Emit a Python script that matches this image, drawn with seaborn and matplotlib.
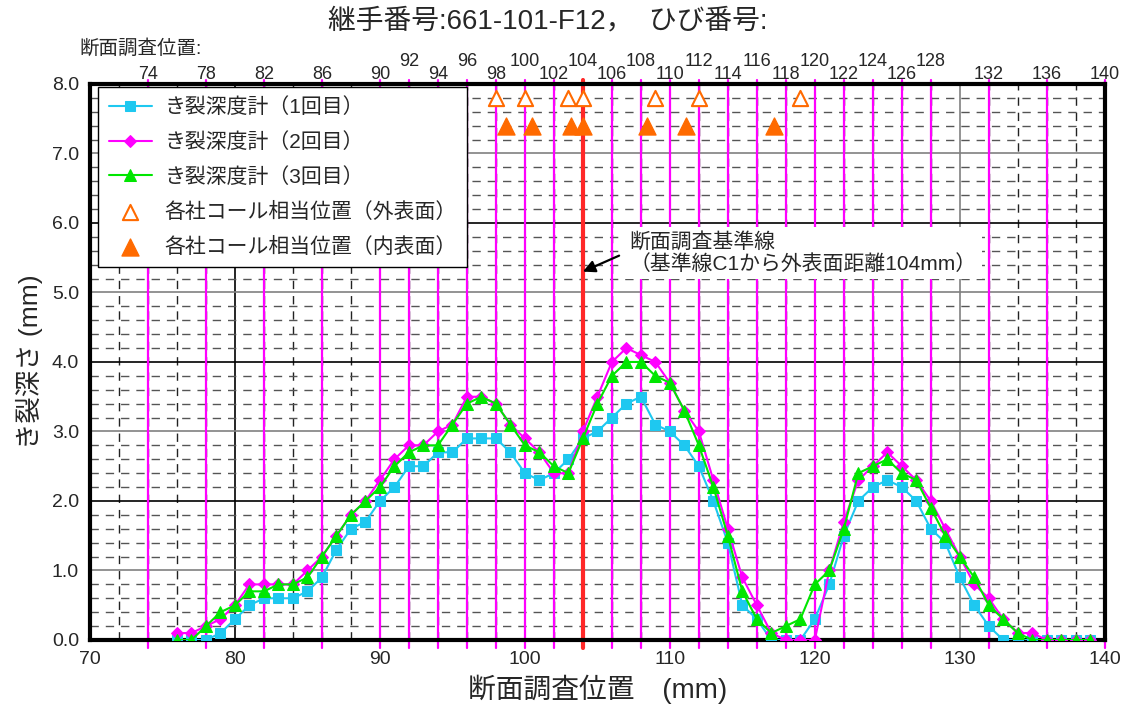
import numpy as np
import matplotlib
matplotlib.use('Agg')

import matplotlib.pyplot as plt
import seaborn as sns
import pandas as pd
from matplotlib.ticker import MultipleLocator


# 断面調査位置 (mm)
positions = list(range(76, 140))

# き裂深度計 1回目
depth_1 = [0.0, 0.0, 0.0, 0.1, 0.3, 0.5, 0.6, 0.6, 0.6, 0.7,
           0.9, 1.3, 1.6, 1.7, 2.0, 2.2, 2.5, 2.5, 2.7, 2.7,
           2.9, 2.9, 2.9, 2.7, 2.4, 2.3, 2.4, 2.6, 2.9, 3.0,
           3.2, 3.4, 3.5, 3.1, 3.0, 2.8, 2.5, 2.0, 1.4, 0.5,
           0.3, 0.0, 0.0, 0.0, 0.3, 0.8, 1.5, 2.0, 2.2, 2.3,
           2.2, 2.0, 1.6, 1.4, 0.9, 0.5, 0.2, 0.0, 0.0, 0.0,
           0.0, 0.0, 0.0, 0.0]
# き裂深度計 2回目
depth_2 = [0.1, 0.1, 0.2, 0.3, 0.5, 0.8, 0.8, 0.8, 0.8, 1.0,
           1.2, 1.5, 1.8, 2.0, 2.3, 2.6, 2.8, 2.8, 3.0, 3.1,
           3.5, 3.5, 3.4, 3.1, 2.9, 2.7, 2.4, 2.4, 3.0, 3.5,
           4.0, 4.2, 4.1, 4.0, 3.7, 3.3, 3.0, 2.3, 1.6, 0.9,
           0.5, 0.1, 0.0, 0.0, 0.0, 1.0, 1.7, 2.3, 2.5, 2.7,
           2.5, 2.3, 2.0, 1.6, 1.2, 0.8, 0.6, 0.3, 0.1, 0.1,
           0.0, 0.0, 0.0, 0.0]
# き裂深度計 3回目
depth_3 = [0.0, 0.0, 0.2, 0.4, 0.5, 0.7, 0.7, 0.8, 0.8, 0.9,
           1.2, 1.5, 1.8, 2.0, 2.2, 2.5, 2.7, 2.8, 2.8, 3.1,
           3.4, 3.5, 3.4, 3.1, 2.8, 2.7, 2.5, 2.4, 2.9, 3.4,
           3.8, 4.0, 4.0, 3.8, 3.7, 3.3, 2.8, 2.2, 1.5, 0.7,
           0.3, 0.1, 0.2, 0.3, 0.8, 1.0, 1.6, 2.4, 2.5, 2.6,
           2.4, 2.3, 1.9, 1.5, 1.2, 0.9, 0.5, 0.3, 0.1, 0.0,
           0.0, 0.0, 0.0, 0.0]

# 各社コール相当位置
call_outer_x = [98.0, 100.0, 103.0, 104.0, 109.0, 112.0, 119.0]
call_outer_y = [7.8, 7.8, 7.8, 7.8, 7.8, 7.8, 7.8]
call_inner_x = [98.7, 100.5, 103.2, 104.0, 108.4, 111.1, 117.2]
call_inner_y = [7.4, 7.4, 7.4, 7.4, 7.4, 7.4, 7.4]

# 断面調査位置 (上側ラベル)
sections = [74, 78, 82, 86, 90, 92, 94, 96, 98, 100, 102, 104, 106, 108,
            110, 112, 114, 116, 118, 120, 122, 124, 126, 128, 132, 136, 140]
reference_pos = 104

series_labels = ['き裂深度計（1回目）', 'き裂深度計（2回目）', 'き裂深度計（3回目）']

df = pd.DataFrame({'位置': positions, 'd1': depth_1, 'd2': depth_2, 'd3': depth_3})

sns.set_style('white')
plt.rcParams['font.family'] = ['Liberation Sans', 'Noto Sans CJK JP']

fig = plt.figure(figsize=(11.25, 7.17), dpi=100)
ax = fig.add_axes([0.08, 0.1074, 0.902, 0.7755])

ax.set_xlim(70, 140)
ax.set_ylim(0, 8)
ax.xaxis.set_major_locator(MultipleLocator(10))
ax.xaxis.set_minor_locator(MultipleLocator(2))
ax.yaxis.set_major_locator(MultipleLocator(1))
ax.yaxis.set_minor_locator(MultipleLocator(0.2))
ax.set_yticklabels([f'{v:.1f}' for v in ax.get_yticks()])

# グリッド
ax.set_axisbelow(True)
ax.grid(which='minor', axis='y', color='#555555', lw=1.0, ls=(0, (6, 5)))
ax.grid(which='minor', axis='x', color='#222222', lw=1.0, ls=(0, (6, 5)))
ax.grid(which='major', axis='both', lw=1.2, ls='-')
for v, gl in zip(ax.get_yticks(), ax.yaxis.get_gridlines()):
    gl.set_color('black' if int(round(v)) % 2 == 0 else '#808080')
for v, gl in zip(ax.get_xticks(), ax.xaxis.get_gridlines()):
    gl.set_color('black' if int(round(v / 10)) % 2 == 0 else '#808080')

# 断面調査位置の縦線
for pos in sections:
    ax.axvline(pos, ymin=-0.014, ymax=1.008, color='#FF00FF', lw=1.6,
               clip_on=False, zorder=2)
    raised = 92 <= pos <= 128 and pos % 4 == 0
    ax.annotate(str(pos), xy=(pos, 1.0), xycoords=('data', 'axes fraction'),
                xytext=(0, 10 if raised else 1), textcoords='offset points',
                ha='center', va='bottom', fontsize=13)

ax.axvline(reference_pos, ymin=-0.014, ymax=1.008, color='#FF2828', lw=3,
           clip_on=False, zorder=2.5)

# データ
sns.lineplot(data=df, x='位置', y='d1', ax=ax, color='#1EC8F0', lw=1.5,
             marker='s', markersize=7, markeredgecolor='#1EC8F0',
             label=series_labels[0], zorder=3)
sns.lineplot(data=df, x='位置', y='d2', ax=ax, color='#FF00FF', lw=1.5,
             marker='D', markersize=6, markeredgecolor='#FF00FF',
             label=series_labels[1], zorder=3)
sns.lineplot(data=df, x='位置', y='d3', ax=ax, color='#00E600', lw=1.5,
             marker='^', markersize=8.5, markeredgecolor='#00E600',
             label=series_labels[2], zorder=3)

sns.scatterplot(x=call_outer_x, y=call_outer_y, ax=ax, marker='^', s=120,
                facecolor='white', edgecolor='#FF6A00', linewidth=1.5,
                label='各社コール相当位置（外表面）', zorder=4)
sns.scatterplot(x=call_inner_x, y=call_inner_y, ax=ax, marker='^', s=150,
                color='#FF6A00', edgecolor='#FF6A00',
                label='各社コール相当位置（内表面）', zorder=4)

ax.text(107.2, 5.57, '断面調査基準線\n（基準線C1から外表面距離104mm）',
        fontsize=15, ha='left', va='center', linespacing=1.15,
        bbox=dict(boxstyle='square,pad=0.25', fc='white', ec='none'),
        zorder=5)
ax.annotate('', xy=(reference_pos, 5.3), xytext=(106.5, 5.53),
            arrowprops=dict(arrowstyle='-|>', color='black', lw=1.6,
                            mutation_scale=18, shrinkA=0, shrinkB=0),
            zorder=6)

leg = ax.legend(loc='upper left', bbox_to_anchor=(0.008, 0.995),
                borderaxespad=0, fontsize=15, frameon=True, fancybox=False,
                edgecolor='black', framealpha=1, handlelength=2.1,
                handletextpad=0.6, labelspacing=0.72, borderpad=0.5)
leg.get_frame().set_linewidth(1.0)
leg.set_zorder(7)

for side in ['left', 'right', 'top', 'bottom']:
    ax.spines[side].set_linewidth(3)
    ax.spines[side].set_color('black')
ax.tick_params(which='both', length=0, labelsize=14, pad=8)

ax.set_xlabel('断面調査位置　(mm)', fontsize=20, labelpad=5)
ax.set_ylabel('き裂深さ (mm)', fontsize=19, labelpad=6)

fig.text(0.487, 0.970, '継手番号:661-101-F12，  ひび番号:', ha='center',
         va='center', fontsize=20)
fig.text(0.071, 0.933, '断面調査位置:', ha='left', va='center', fontsize=14)

fig.savefig('out.png', dpi=100)
